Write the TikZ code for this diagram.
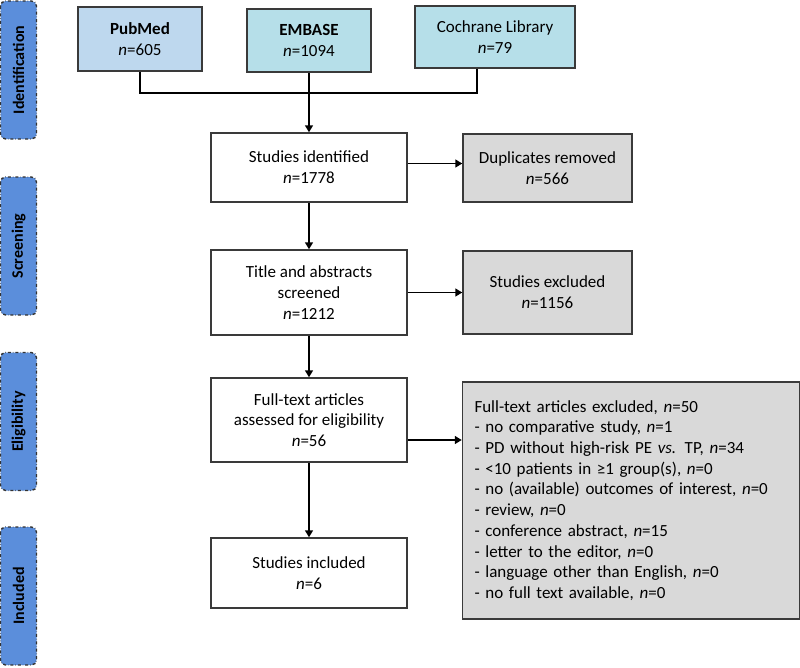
\documentclass[tikz,border=0pt]{standalone}
\usepackage{fontspec}
\setmainfont{Carlito}
\usetikzlibrary{arrows.meta}

\definecolor{pubblue}{HTML}{BED8EE}
\definecolor{dbteal}{HTML}{B6DFE9}
\definecolor{exgray}{HTML}{D9D9D9}
\definecolor{tabblue}{HTML}{5B8EDB}
\definecolor{edgegray}{HTML}{3A3A3A}
\newcommand{\nval}[1]{\textit{n}=#1}

\begin{document}
\begin{tikzpicture}[x=1pt, y=-1pt,
    box/.style={draw=edgegray, line width=1.5pt, align=center, inner sep=2pt, font=\fontsize{17}{20.7}\selectfont},
    phase/.style={draw=black!80, dash dot, line width=1.4pt, fill=tabblue, rounded corners=5pt, rotate=90,
      minimum width=138pt, minimum height=36pt, inner sep=0pt, font=\fontsize{16}{19}\selectfont\bfseries},
    link/.style={draw=black, line width=1.6pt},
    arr/.style={link, -{Triangle[width=8pt,length=7pt]}}]

  \useasboundingbox (0,0) rectangle (800,667);

  % phases
  \node[phase] (idtab) at (18.5,70) {Identification};
  \node[phase] (sctab) at (18.5,246) {Screening};
  \node[phase] (eltab) at (18.5,421.5) {Eligibility};
  \node[phase] (intab) at (18.5,596) {Included};

  % databases
  \node[box, fill=pubblue, minimum width=124pt, minimum height=64pt] (pub) at (140,39) {\textbf{PubMed}\\\nval{605}};
  \node[box, fill=dbteal, minimum width=124pt, minimum height=63pt] (emb) at (309,40.5) {\textbf{EMBASE}\\\nval{1094}};
  \node[box, fill=dbteal, minimum width=160pt, minimum height=62pt] (coch) at (495,37) {Cochrane Library\\\nval{79}};

  % main column
  \node[box, minimum width=196pt, minimum height=69pt] (ident) at (309,167.5) {Studies identified\\\nval{1778}};
  \node[box, minimum width=196pt, minimum height=85pt] (title) at (309,292.5) {Title and abstracts\\screened\\\nval{1212}};
  \node[box, minimum width=196pt, minimum height=84pt] (full) at (309,420) {Full-text articles\\assessed for eligibility\\\nval{56}};
  \node[box, minimum width=196pt, minimum height=70pt] (incl) at (309,573) {Studies included\\\nval{6}};

  % excluded
  \node[box, fill=exgray, minimum width=169pt, minimum height=68pt] (dup) at (547.5,168) {Duplicates removed\\\nval{566}};
  \node[box, fill=exgray, minimum width=169pt, minimum height=83pt] (scex) at (547.5,292.5) {Studies excluded\\\nval{1156}};
  \node[box, fill=exgray, align=left, text width=313pt, inner sep=12pt, minimum height=237pt] (ftex) at (631,500.5) {Full-text articles excluded, \nval{50}\\
    - no comparative study, \nval{1}\\
    - PD without high-risk PE \textit{vs.} TP, \nval{34}\\
    - <10 patients in ≥1 group(s), \nval{0}\\
    - no (available) outcomes of interest, \nval{0}\\
    - review, \nval{0}\\
    - conference abstract, \nval{15}\\
    - letter to the editor, \nval{0}\\
    - language other than English, \nval{0}\\
    - no full text available, \nval{0}};

  \coordinate (cj) at (477,93);
  \draw[link] (pub.south) |- (cj) -- (cj |- coch.south);
  \draw[arr] (emb.south) -- (ident.north);

  \draw[arr] (ident) -- (title);
  \draw[arr] (title) -- (full);
  \draw[arr] (full) -- (incl);

  \draw[arr] ([yshift=4pt]ident.east) -- ([yshift=4pt]ident.east -| dup.west);
  \draw[arr] (title.east) -- (title.east -| scex.west);
  \draw[arr] ([yshift=-20pt]full.east) -- ([yshift=-20pt]full.east -| ftex.west);
\end{tikzpicture}
\end{document}
